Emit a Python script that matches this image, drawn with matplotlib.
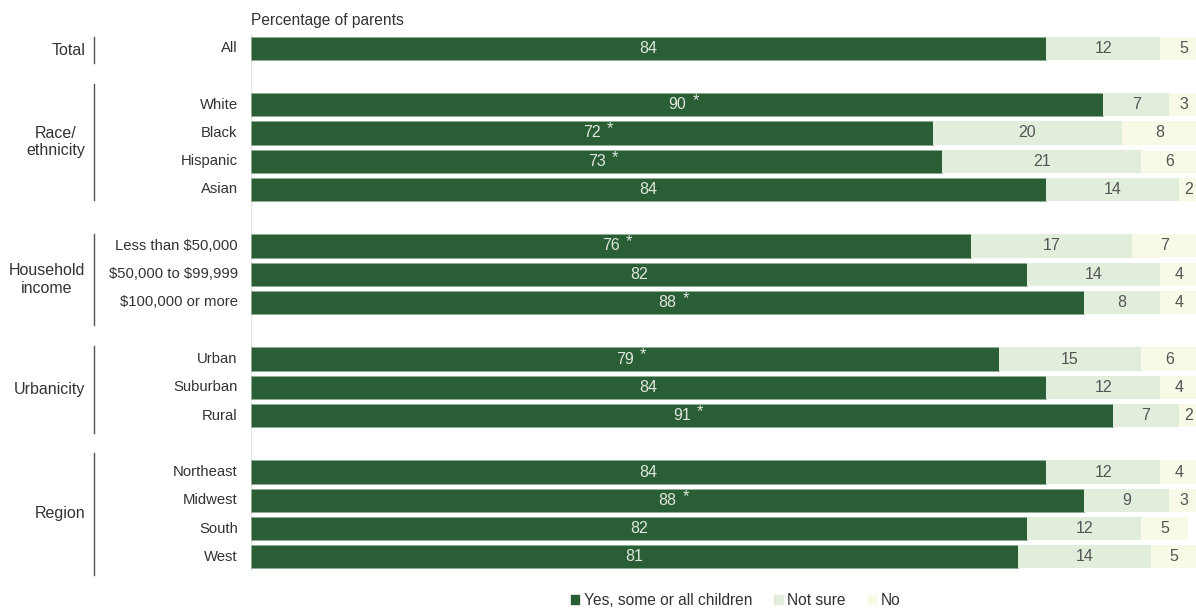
import matplotlib
import matplotlib.pyplot as plt

matplotlib.use("Agg")

plt.rcParams['font.family'] = ['Liberation Sans Narrow', 'Liberation Sans', 'DejaVu Sans']

# Rows of the chart (None = spacer between groups)
categories = ["All", None,
              "White", "Black", "Hispanic", "Asian", None,
              "Less than $50,000", "$50,000 to $99,999", "$100,000 or more", None,
              "Urban", "Suburban", "Rural", None,
              "Northeast", "Midwest", "South", "West"]
yes_vals = [84, None, 90, 72, 73, 84, None, 76, 82, 88, None, 79, 84, 91, None, 84, 88, 82, 81]
notsure_vals = [12, None, 7, 20, 21, 14, None, 17, 14, 8, None, 15, 12, 7, None, 12, 9, 12, 14]
no_vals = [5, None, 3, 8, 6, 2, None, 7, 4, 4, None, 6, 4, 2, None, 4, 3, 5, 5]
significant = [False, None, True, True, True, False, None, True, False, True, None,
               True, False, True, None, False, True, False, False]

groups = ["Total", "Race/\nethnicity", "Household\nincome", "Urbanicity", "Region"]
# vertical extent of each group's separator line, in row units
group_spans = [(-0.39, 0.53), (1.27, 5.37), (6.58, 9.79), (10.54, 13.61), (14.32, 18.64)]

series_names = ["Yes, some or all children", "Not sure", "No"]
colors = ["#2a5e34", "#e1eedc", "#f8f9e6"]

fig = plt.figure(figsize=(11.96, 6.09), dpi=100)
ax = fig.add_axes([251 / 1196, 1 - 571 / 609, 1 - 251 / 1196, (571 - 34) / 609])

bar_h = 0.82
for i, cat in enumerate(categories):
    if cat is None:
        continue
    y, ns, n = yes_vals[i], notsure_vals[i], no_vals[i]
    ax.barh(i, y, height=bar_h, color=colors[0], edgecolor="#8fae92", linewidth=0.5)
    ax.barh(i, ns, left=y, height=bar_h, color=colors[1], linewidth=0)
    ax.barh(i, n, left=y + ns, height=bar_h, color=colors[2], linewidth=0)
    ax.text(y / 2, i, str(y), ha="center", va="center", fontsize=11.5, color="#dfe6df")
    if significant[i]:
        ax.text(y / 2 + 1.6, i - 0.14, "*", ha="left", va="center",
                fontsize=12, color="#dfe6df")
    ax.text(y + ns / 2, i, str(ns), ha="center", va="center", fontsize=11.5, color="#555555")
    ax.text(y + ns + n / 2, i, str(n), ha="center", va="center", fontsize=11.5, color="#555555")
    ax.text(-1.4, i, cat, ha="right", va="center", fontsize=10.7, color="#333333",
            parse_math=False)

ax.axvline(0, color="#e6e6e6", linewidth=1, zorder=0)
ax.set_xlim(0, 99.8)
ax.set_ylim(len(categories) - 0.5, -0.5)
ax.axis("off")

ax.text(0, -0.72, "Percentage of parents", ha="left", va="bottom", fontsize=11.2, color="#333333")

# group labels with vertical separator lines
for name, (r0, r1) in zip(groups, group_spans):
    ax.plot([-16.6, -16.6], [r0, r1], color="#555555", linewidth=1, clip_on=False)
    ax.text(-17.5, (r0 + r1) / 2, name, ha="right", va="center", multialignment="center",
            fontsize=11.5, color="#333333", linespacing=1.2)

# legend at bottom
handles = [plt.Rectangle((0, 0), 1, 1, color=c) for c in colors]
leg = fig.legend(handles, series_names, loc="center", bbox_to_anchor=(0.615, 0.014), ncol=3,
                 frameon=False, fontsize=11.2, handlelength=0.55, handleheight=0.55,
                 handletextpad=0.3, columnspacing=1.4)
for t in leg.get_texts():
    t.set_color("#333333")

fig.savefig("out.png", dpi=100)
